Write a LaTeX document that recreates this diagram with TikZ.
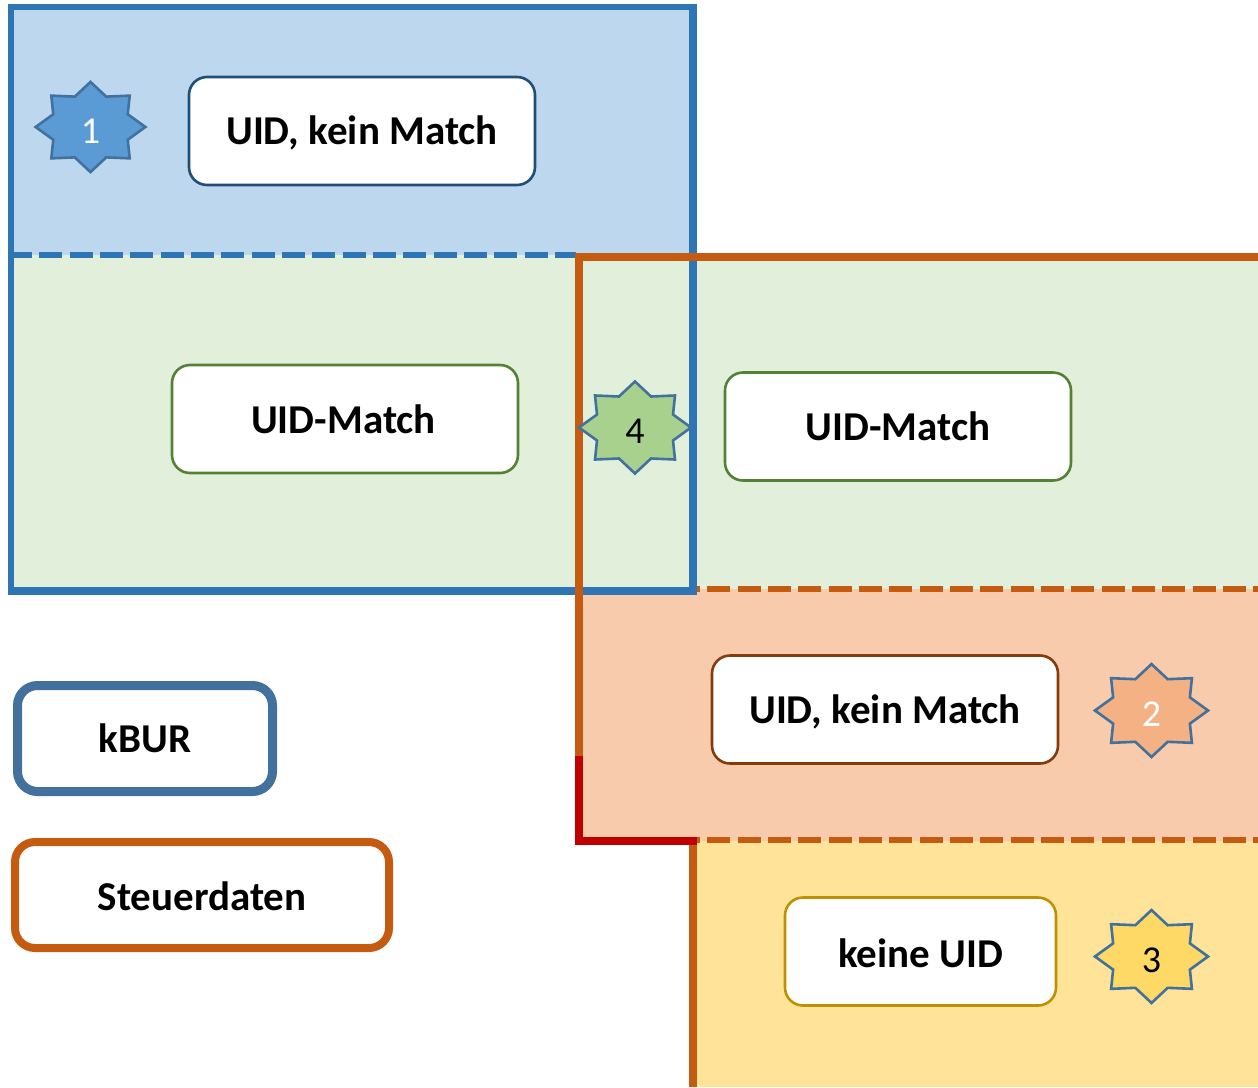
\documentclass[tikz,border=0pt]{standalone}
\usepackage{fontspec}
\setmainfont{Carlito}
\definecolor{kburblue}{HTML}{2E75B6}
\definecolor{steuerorange}{HTML}{C55A11}
\definecolor{cornerred}{HTML}{C00000}
\definecolor{starline}{HTML}{41719C}
\newcommand{\burst}[5]{%
	\draw[Burst, shift={(#1)}, #2] (0,-46) -- (16,-31) -- (40,-32) -- (38,-13) -- (56,0) -- (38,13) -- (40,32) -- (16,31) -- (0,46) -- (-16,31) -- (-40,32) -- (-38,13) -- (-56,0) -- (-38,-13) -- (-40,-32) -- (-16,-31) -- cycle;
	\node (#3) at ([yshift=-4]#1) [Number, text=#4] {#5};}
\newcommand{\dropped}[2]{\raisebox{-#1}[\height][\depth]{#2}}
\begin{document}
\begin{tikzpicture}[x=1pt,y=-1pt]
				\tikzstyle{Box} = [rectangle, draw, fill=white, rounded corners=18, line width=2.6, minimum width=346, minimum height=108, inner sep=0pt, font=\fontsize{41}{41}\bfseries]
				\tikzstyle{Legend} = [rectangle, draw, fill=white, rounded corners=20, line width=8, inner sep=0pt, font=\fontsize{41}{41}\bfseries]
				\tikzstyle{Burst} = [draw=starline, line width=2.6, line join=miter, miter limit=3]
				\tikzstyle{Number} = [inner sep=0pt, font=\fontsize{38}{38}\selectfont]
				\useasboundingbox (0,0) rectangle (1258,1087);
				% areas
				\fill[fill={rgb,255:red,189;green,215;blue,238}] (11,7) rectangle (693,255);
				\fill[fill={rgb,255:red,226;green,239;blue,218}] (11,255) rectangle (693,591);
				\fill[fill={rgb,255:red,226;green,239;blue,218}] (693,257) rectangle (1258,589);
				\fill[fill={rgb,255:red,247;green,203;blue,172}] (579,591) rectangle (693,841);
				\fill[fill={rgb,255:red,247;green,203;blue,172}] (693,589) rectangle (1258,841);
				\fill[fill={rgb,255:red,254;green,227;blue,152}] (693,841) rectangle (1258,1087);
				% frames
				\draw[kburblue, line width=6, dash pattern=on 23 off 7.33, dash phase=5] (14,255) -- (576,255);
				\draw[steuerorange, line width=6, dash pattern=on 23 off 7.33, dash phase=20] (697,589) -- (1258,589);
				\draw[steuerorange, line width=6, dash pattern=on 23 off 7.33, dash phase=20] (697,840) -- (1258,840);
				\draw[kburblue, line width=6] (693,7) -- (11,7) -- (11,595);
				\draw[kburblue, line width=8] (8,591) -- (697,591);
				\draw[kburblue, line width=8] (693,4) -- (693,595);
				\draw[steuerorange, line width=8] (1258,257) -- (579,257) -- (579,756);
				\draw[cornerred, line width=8] (579,756) -- (579,841) -- (697,841);
				\draw[steuerorange, line width=8] (693,845) -- (693,1087);
				% bursts
				\burst{90.5,127}{fill={rgb,255:red,91;green,155;blue,213}, scale=0.98}{b1}{white}{1}
				\burst{635,427.5}{fill={rgb,255:red,169;green,209;blue,142}}{b4}{black}{4}
				\burst{1151.5,710.5}{fill={rgb,255:red,244;green,177;blue,131}, scale=1.01}{b2}{white}{2}
				\burst{1151.5,956.5}{fill={rgb,255:red,255;green,217;blue,102}, scale=1.01}{b3}{black}{3}
				% boxes
				\node (top) at (362,131) [Box, draw={rgb,255:red,31;green,78;blue,121}] {\dropped{2pt}{UID, kein Match}};
				\node (matchl) at (345,419) [Box, draw={rgb,255:red,84;green,130;blue,53}] {\hspace{-3pt}UID-Match};
				\node (matchr) at (898,426.5) [Box, draw={rgb,255:red,84;green,130;blue,53}] {UID-Match};
				\node (nomatch) at (885,709.5) [Box, draw={rgb,255:red,132;green,60;blue,12}] {\dropped{2pt}{UID, kein Match}};
				\node (nouid) at (920.5,951.5) [Box, minimum width=271, draw={rgb,255:red,191;green,144;blue,0}] {\dropped{2pt}{keine UID}};
				% legend
				\node (kbur) at (145,738.5) [Legend, line width=9, minimum width=255, minimum height=106, draw=starline] {kBUR};
				\node (steuer) at (202,895) [Legend, minimum width=374, minimum height=106, draw=steuerorange] {\dropped{1pt}{Steuerdaten}};
			\end{tikzpicture}
\end{document}
